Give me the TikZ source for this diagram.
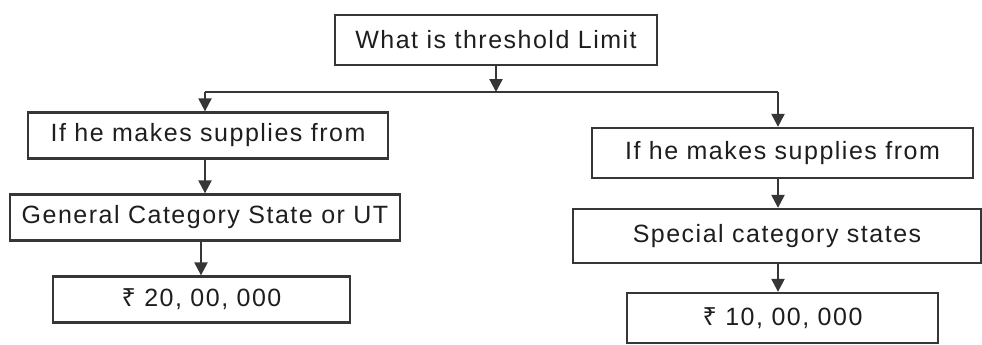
\documentclass[tikz,border=0pt]{standalone}
\usepackage{fontspec}
\setmainfont[LetterSpace=6]{Liberation Sans}
\newfontfamily\rupfont{Noto Sans}
\usetikzlibrary{arrows.meta}
\definecolor{ink}{HTML}{1E1E1E}
\definecolor{edge}{HTML}{363636}
\begin{document}
\begin{tikzpicture}[x=1pt,y=-1pt,
  box/.style={draw=edge, line width=2.3pt, text=ink, font=\fontsize{25}{29}\selectfont, inner sep=0pt, minimum height=46pt},
  arr/.style={draw=edge, line width=2.3pt, -{Triangle[length=13pt,width=13pt]}},
  ln/.style={draw=edge, line width=2.3pt}]
\useasboundingbox[fill=white] (0,0) rectangle (982,345);
\node[box, minimum width=322pt, minimum height=50pt] (top) at (496,40) {What is threshold Limit};
\coordinate (hc) at (496,92);
\coordinate (hl) at (205,92);
\coordinate (hr) at (778,92);
\node[box, minimum width=360pt] (l1) at (208,135.5) {If he makes supplies from};
\node[box, minimum width=390pt] (l2) at (205,217.5) {General Category State or UT};
\node[box, minimum width=297pt] (l3) at (201.5,299.5) {{\rupfont ₹} 20, 00, 000};
\node[box, minimum width=381pt, minimum height=50pt] (r1) at (782.5,153) {If he makes supplies from};
\node[box, minimum width=408pt, minimum height=54pt] (r2) at (777,236) {Special category states};
\node[box, minimum width=311pt, minimum height=50pt] (r3) at (782.5,318) {{\rupfont ₹} 10, 00, 000};
\draw[arr] (top.south) -- (hc);
\draw[ln] (hl) -- (hr);
\draw[arr] (hl) -- (hl |- l1.north);
\draw[arr] (hr) -- (hr |- r1.north);
\draw[arr] (hl |- l1.south) -- (hl |- l2.north);
\draw[arr] ([xshift=-4pt]hl |- l2.south) -- ([xshift=-4pt]hl |- l3.north);
\draw[arr] (hr |- r1.south) -- (hr |- r2.north);
\draw[arr] (hr |- r2.south) -- (hr |- r3.north);
\end{tikzpicture}
\end{document}
